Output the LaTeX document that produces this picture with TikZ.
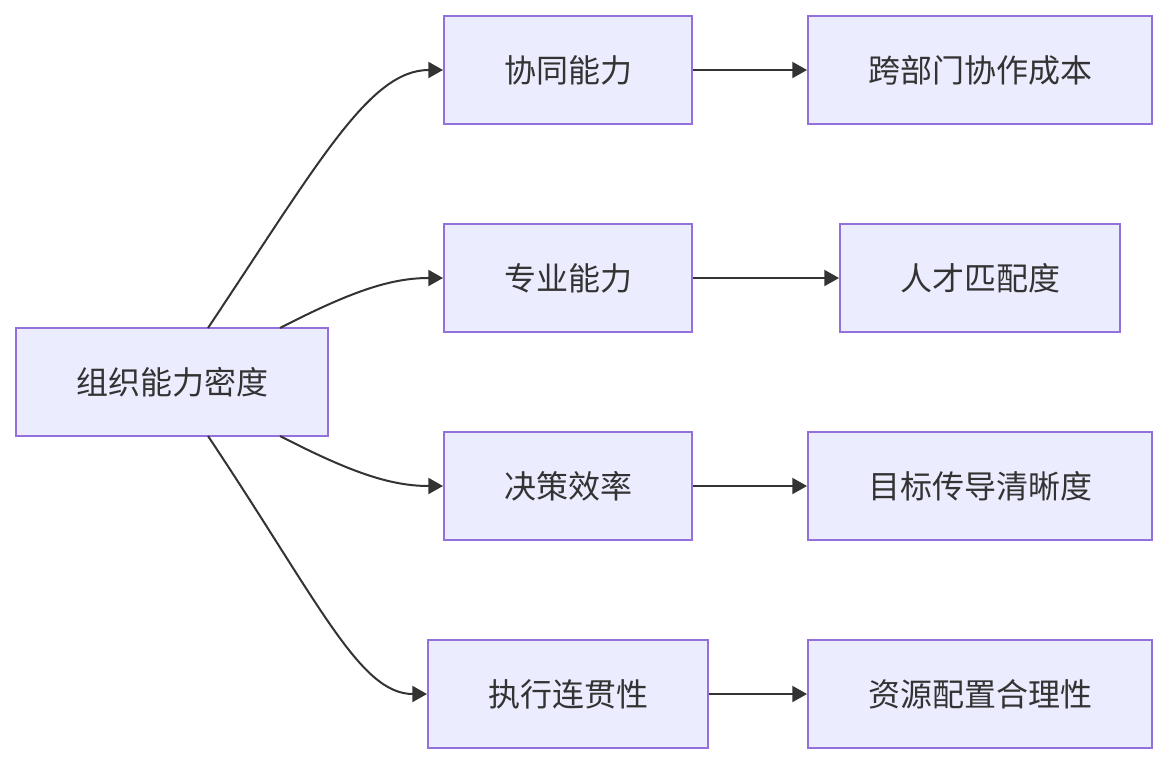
\documentclass[tikz,border=0pt]{standalone}
\usepackage{fontspec}
\newfontfamily\cjk{Noto Sans CJK SC}
\usepackage{tikz}
\usetikzlibrary{arrows.meta,positioning,calc}
\definecolor{boxfill}{HTML}{ECECFF}
\definecolor{boxline}{HTML}{9370DB}
\definecolor{inkgray}{HTML}{333333}
\tikzset{
  box/.style={draw=boxline,fill=boxfill,line width=1.5pt,minimum height=81pt,inner sep=0pt,text=inkgray,font=\cjk\fontsize{24}{28}\selectfont},
  link/.style={inkgray,line width=1.5pt,-{Triangle[length=11pt,width=12pt]}}
}

\begin{document}
\begin{tikzpicture}[x=0.75pt,y=-0.75pt]
  \useasboundingbox (0,0) rectangle (1168,764);
  % left column
  \node[box,minimum width=234pt] (density) at (172,382) {组织能力密度};
  % middle column
  \node[box,minimum width=186pt] (collab) at (568,70) {协同能力};
  \node[box,minimum width=186pt] (expert) at (568,278) {专业能力};
  \node[box,minimum width=186pt] (decide) at (568,486) {决策效率};
  \node[box,minimum width=210pt] (execute) at (568,694) {执行连贯性};
  % right column
  \node[box,minimum width=258pt] (crossdept) at (980,70) {跨部门协作成本};
  \node[box,minimum width=210pt] (talent) at (980,278) {人才匹配度};
  \node[box,minimum width=258pt] (goal) at (980,486) {目标传导清晰度};
  \node[box,minimum width=258pt] (resource) at (980,694) {资源配置合理性};
  % curved links out of the root
  \coordinate (s1) at (208,328);
  \coordinate (s2) at (280,328);
  \coordinate (s3) at (280,436);
  \coordinate (s4) at (208,436);
  \draw[link] (s1) .. controls (320,160) and (370,70) .. (collab.west);
  \draw[link] (s2) .. controls (350,292) and (390,278) .. (expert.west);
  \draw[link] (s3) .. controls (350,472) and (390,486) .. (decide.west);
  \draw[link] (s4) .. controls (320,604) and (360,694) .. (execute.west);
  % straight links
  \draw[link] (collab) -- (crossdept);
  \draw[link] (expert) -- (talent);
  \draw[link] (decide) -- (goal);
  \draw[link] (execute) -- (resource);
\end{tikzpicture}
\end{document}
